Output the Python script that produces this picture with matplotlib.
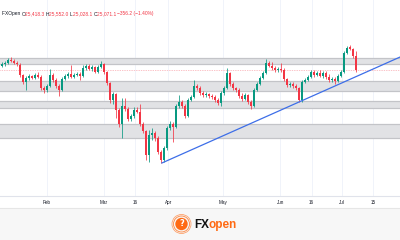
import matplotlib
matplotlib.use("Agg")
import matplotlib.pyplot as plt
from matplotlib.patches import Rectangle, Circle

# daily OHLC (index points)
opens = [25170, 25220, 25245, 25320, 25295, 25245, 25195, 24945, 24770, 24870,
         24920, 24870, 24945, 24895, 24620, 24570, 24670, 24945, 24820, 24670,
         24570, 24845, 24920, 24970, 24895, 24945, 24970, 24920, 25120, 25170,
         25095, 25145, 25020, 25145, 25220, 25020, 24745, 24320, 24470, 24070,
         23720, 24170, 24095, 23845, 23920, 24070, 24020, 23720, 23545, 22945,
         23445, 23495, 23370, 23020, 22820, 23120, 23620, 23720, 23645, 24170,
         24270, 24170, 23920, 24320, 24395, 24670, 24620, 24495, 24445, 24470,
         24420, 24395, 24320, 24245, 24495, 24620, 24995, 24720, 24620, 24570,
         24420, 24345, 24445, 24270, 24170, 24570, 24720, 24870, 24995, 25245,
         25170, 25120, 25070, 25095, 25070, 24845, 24695, 24720, 24670, 24620,
         24320, 24770, 24820, 24895, 25020, 24945, 24995, 24920, 24995, 24895,
         24820, 24845, 24795, 24920, 25020, 25495, 25645, 25595, 25418]
highs = [25270, 25295, 25370, 25395, 25345, 25295, 25245, 24970, 24920, 24970,
         24945, 24995, 25020, 24945, 24670, 24720, 25095, 24995, 24870, 24720,
         24895, 24970, 25020, 25195, 24995, 25020, 25020, 25195, 25220, 25220,
         25195, 25170, 25195, 25295, 25245, 25045, 24770, 24520, 24495, 24120,
         24370, 24370, 24145, 23970, 24145, 24145, 24220, 23770, 23570, 23570,
         23620, 23545, 23420, 23070, 23170, 23670, 23795, 23770, 24220, 24445,
         24320, 24220, 24370, 24445, 24820, 24720, 24670, 24545, 24520, 24495,
         24470, 24445, 24370, 24545, 24670, 25120, 25020, 24770, 24645, 24620,
         24495, 24495, 24470, 24320, 24620, 24770, 24920, 25045, 25345, 25295,
         25270, 25170, 25145, 25245, 25120, 24870, 24770, 24770, 24720, 24645,
         24820, 24870, 24945, 25070, 25070, 25045, 25070, 25045, 25045, 24970,
         24895, 24895, 24970, 25070, 25545, 25670, 25695, 25620, 25552]
lows = [25145, 25170, 25220, 25270, 25220, 25170, 24895, 24720, 24570, 24820,
        24845, 24845, 24870, 24570, 24495, 24520, 24645, 24770, 24620, 24420,
        24545, 24820, 24870, 24870, 24870, 24920, 24820, 24895, 25070, 25070,
        25045, 24995, 24995, 25120, 24970, 24695, 24245, 24220, 23870, 23645,
        23370, 24045, 23795, 23795, 23870, 23995, 23670, 23495, 22820, 22770,
        23320, 23295, 22970, 22745, 22770, 23070, 23570, 23270, 23620, 24120,
        24120, 23870, 23895, 24295, 24370, 24570, 24445, 24395, 24395, 24370,
        24345, 24270, 24195, 24170, 24445, 24595, 24670, 24570, 24520, 24370,
        24295, 24320, 24220, 24095, 24145, 24545, 24695, 24845, 24970, 25145,
        25070, 25020, 25020, 25020, 24795, 24645, 24645, 24620, 24570, 24270,
        24270, 24745, 24795, 24870, 24895, 24920, 24895, 24870, 24845, 24770,
        24770, 24720, 24770, 24895, 24995, 25470, 25570, 25370, 25028]
closes = [25220, 25245, 25320, 25295, 25245, 25220, 24945, 24770, 24870, 24920,
          24870, 24945, 24895, 24620, 24570, 24670, 24945, 24820, 24670, 24570,
          24845, 24920, 24970, 24895, 24945, 24970, 24920, 25120, 25170, 25095,
          25145, 25020, 25145, 25220, 25020, 24745, 24320, 24470, 24070, 23720,
          24170, 24095, 23845, 23920, 24070, 24020, 23720, 23545, 22945, 23445,
          23495, 23370, 23020, 22820, 23120, 23620, 23720, 23645, 24170, 24270,
          24170, 23920, 24320, 24395, 24670, 24620, 24495, 24445, 24470, 24420,
          24395, 24320, 24245, 24495, 24620, 24995, 24720, 24620, 24570, 24420,
          24345, 24445, 24270, 24170, 24570, 24720, 24870, 24995, 25245, 25170,
          25120, 25070, 25095, 25070, 24845, 24695, 24720, 24670, 24620, 24320,
          24770, 24820, 24895, 25020, 24945, 24995, 24920, 24995, 24895, 24820,
          24845, 24795, 24920, 25020, 25495, 25620, 25595, 25420, 25071]

# horizontal zones (bottom, top)
zones = [(25208, 25382), (24545, 24795), (24132, 24295), (23370, 23720)]
# trend line anchors (bar, price)
trend_pts = [(53.3, 22745), (99, 24270)]
last_price = 25071

tick_pos = [15, 34, 44.3, 55.4, 73.7, 92.8, 103.2, 113.2, 123.8]
tick_labels = ['Feb', 'Mar', '16', 'Apr', 'May', 'Jun', '16', 'Jul', '15']

info = [("FXOpen ", "#131722"), ("O", "#131722"), ("25,418.3 ", "#f23645"),
        ("H", "#131722"), ("25,552.0 ", "#f23645"), ("L", "#131722"),
        ("25,028.1 ", "#f23645"), ("C", "#131722"), ("25,071.1 ", "#f23645"),
        ("\u2212356.2 (\u22121.40%)", "#f23645")]

up, down = '#089981', '#f23645'

fig = plt.figure(figsize=(4, 2.4), dpi=100)
fig.patch.set_facecolor('white')

# footer band
fig.add_artist(Rectangle((0, 0), 1, 32 / 240, transform=fig.transFigure,
                         facecolor='#f7f7f7', edgecolor='none', zorder=-5))
fig.add_artist(plt.Line2D([0, 1], [32 / 240, 32 / 240], transform=fig.transFigure,
                          color='#e6e6e6', lw=0.8, zorder=-4))

ax = fig.add_axes([0, 44 / 240, 1, 196 / 240])
ax.set_xlim(-2 / 3, 132.67)
ax.set_ylim(21920, 26820)
ax.patch.set_alpha(0)

for p in tick_pos:
    ax.axvline(p, color='#f0f3fa', lw=0.7, zorder=0)

for lo, hi in zones:
    ax.axhspan(lo, hi, facecolor='#e1e2e5', edgecolor='none', zorder=1)
    ax.axhline(lo, color='#c3c4c8', lw=0.9, zorder=1)
    ax.axhline(hi, color='#c3c4c8', lw=0.9, zorder=1)

ax.axhline(last_price, color='#f23645', lw=0.5, ls=(0, (1, 1.5)), alpha=0.6, zorder=2)

for i in range(len(closes)):
    o, h, l, c = opens[i], highs[i], lows[i], closes[i]
    col = up if c >= o else down
    ax.vlines(i, l, h, color=col, lw=0.55, zorder=3)
    ax.bar(i, max(abs(c - o), 12), bottom=min(o, c), width=0.75, color=col,
           lw=0, zorder=4)

(x1, y1), (x2, y2) = trend_pts
slope = (y2 - y1) / (x2 - x1)
xe = ax.get_xlim()[1]
ax.plot([x1, xe], [y1, y1 + slope * (xe - x1)], color='#3d6ee8', lw=0.9, zorder=5)

for s in ['top', 'left', 'right']:
    ax.spines[s].set_visible(False)
ax.spines['bottom'].set_color('#e0e3eb')
ax.spines['bottom'].set_linewidth(0.8)
ax.set_yticks([])
ax.set_xticks(tick_pos)
ax.set_xticklabels(tick_labels, fontsize=3.3, color='#131722', family='Liberation Sans')
ax.tick_params(axis='x', length=0, pad=3.2)

# info line
r = fig.canvas.get_renderer()
xpix = 2
for s, col in info:
    t = fig.text(xpix / 400, 1 - 14 / 240, s, fontsize=3.5, color=col,
                 family='Liberation Sans', va='center', ha='left')
    xpix = t.get_window_extent(r).x1

# logo
orange = '#ff6a13'
lax = fig.add_axes([170 / 400, 1 / 240, 23 / 400, 30 / 240], zorder=5)
lax.set_xlim(-1.15, 1.15)
lax.set_ylim(-1.5, 1.5)
lax.set_aspect('equal')
lax.axis('off')
lax.add_patch(Circle((0, 0), 0.95, facecolor='none', edgecolor=orange, lw=0.6, alpha=0.6))
lax.add_patch(Circle((0, 0), 0.8, facecolor='none', edgecolor=orange, lw=0.6, alpha=0.8))
lax.add_patch(Circle((0, 0), 0.62, facecolor=orange, edgecolor='none'))
lax.text(0, 0, "?", color='white', fontsize=6, ha='center', va='center', fontweight='bold')

t1 = fig.text(194 / 400, 15 / 240, "FX", fontsize=8.5, fontweight='bold',
              color='#111111', family='Liberation Sans', va='center', ha='left')
x_end = t1.get_window_extent(r).x1
fig.text(x_end / 400 - 0.002, 15 / 240, "open", fontsize=8.5, fontweight='bold',
         color=orange, family='Liberation Sans', va='center', ha='left')

fig.savefig('out.png', dpi=100)
